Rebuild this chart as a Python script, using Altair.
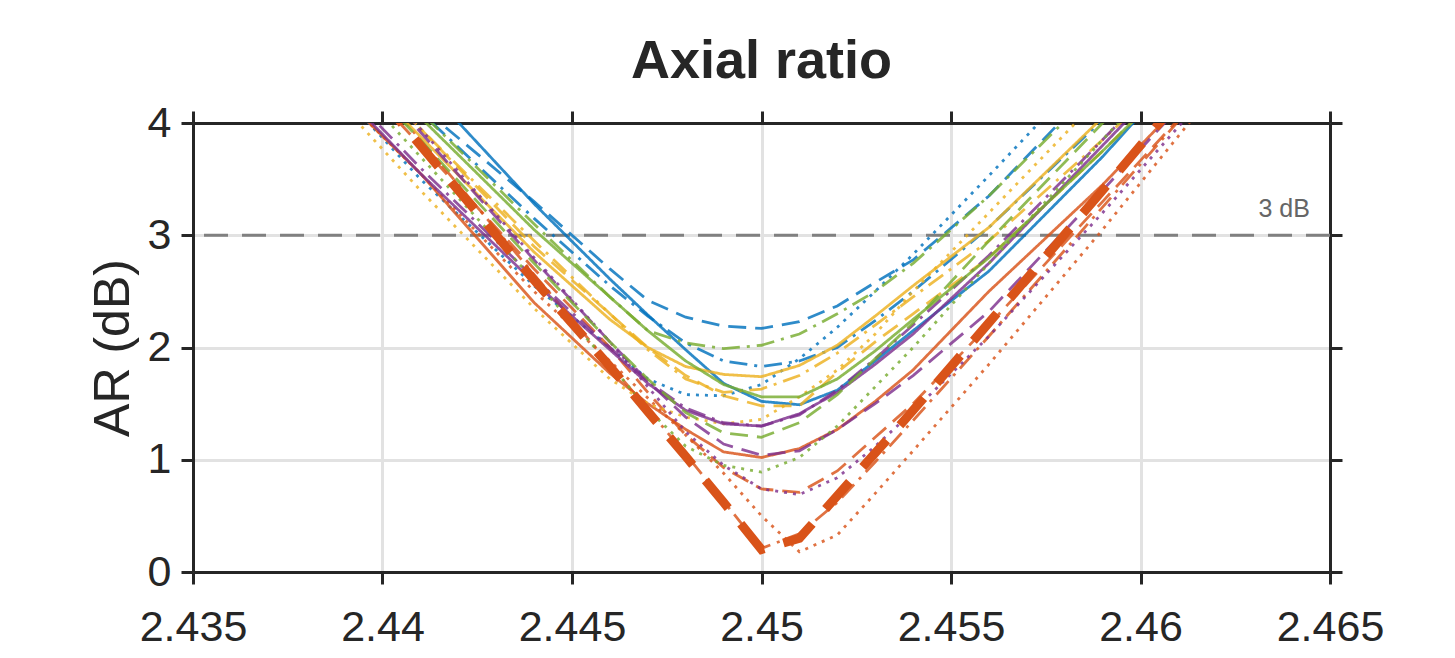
import altair as alt
import pandas as pd

# Frequency grid (GHz)
X = [2.438, 2.441, 2.444, 2.446, 2.447, 2.448, 2.449, 2.450, 2.451, 2.452, 2.453, 2.454, 2.456, 2.459, 2.462]

# Axial ratio curves (dB)
blue_solid    = [5.50, 4.37, 3.28, 2.61, 2.29, 1.98, 1.68, 1.52, 1.49, 1.62, 1.88, 2.15, 2.68, 3.70, 4.82]
blue_dashed   = [5.10, 4.15, 3.30, 2.70, 2.42, 2.27, 2.19, 2.17, 2.23, 2.37, 2.58, 2.78, 3.35, 4.40, 5.40]
blue_dashdot  = [5.10, 4.10, 3.15, 2.55, 2.28, 2.04, 1.88, 1.83, 1.88, 2.00, 2.24, 2.50, 3.07, 4.03, 5.00]
blue_dotted   = [4.60, 3.50, 2.55, 2.00, 1.72, 1.58, 1.57, 1.67, 1.90, 2.18, 2.50, 2.83, 3.53, 4.60, 5.70]

orange_solid   = [4.55, 3.55, 2.40, 1.77, 1.50, 1.27, 1.07, 1.02, 1.10, 1.27, 1.52, 1.80, 2.50, 3.45, 4.50]
orange_dashed  = [4.90, 3.80, 2.70, 2.00, 1.60, 1.22, 0.93, 0.74, 0.71, 0.90, 1.20, 1.50, 2.20, 3.30, 4.40]
orange_dotted  = [4.55, 3.55, 2.50, 1.88, 1.55, 1.22, 0.88, 0.50, 0.18, 0.33, 0.70, 1.08, 1.85, 3.05, 4.30]
orange_dashdot = [5.05, 3.85, 2.65, 1.85, 1.45, 1.05, 0.63, 0.21, 0.34, 0.62, 0.98, 1.35, 2.10, 3.25, 4.40]

yellow_solid   = [4.90, 3.88, 2.85, 2.25, 2.00, 1.83, 1.76, 1.74, 1.84, 2.02, 2.28, 2.55, 3.07, 4.05, 5.05]
yellow_dashed  = [5.00, 3.95, 2.90, 2.30, 2.00, 1.75, 1.57, 1.48, 1.48, 1.78, 2.05, 2.30, 2.80, 3.75, 4.75]
yellow_dashdot = [5.00, 3.95, 2.95, 2.30, 1.98, 1.72, 1.60, 1.63, 1.75, 1.95, 2.20, 2.45, 2.95, 3.85, 4.80]
yellow_dotted  = [4.50, 3.40, 2.35, 1.72, 1.50, 1.38, 1.32, 1.36, 1.56, 1.80, 2.12, 2.50, 3.20, 4.25, 5.30]

purple_solid   = [4.60, 3.55, 2.58, 1.98, 1.68, 1.44, 1.32, 1.30, 1.41, 1.60, 1.85, 2.12, 2.75, 3.80, 4.85]
purple_dashdot = [4.65, 3.60, 2.62, 2.00, 1.70, 1.46, 1.33, 1.30, 1.40, 1.62, 1.90, 2.20, 2.82, 3.85, 4.90]
purple_dashed  = [5.00, 3.92, 2.78, 2.05, 1.70, 1.38, 1.14, 1.04, 1.08, 1.27, 1.50, 1.75, 2.32, 3.40, 4.50]
purple_dotted  = [5.10, 3.95, 2.80, 2.05, 1.65, 1.25, 0.95, 0.74, 0.69, 0.84, 1.12, 1.43, 2.10, 3.20, 4.35]

green_solid   = [5.00, 4.05, 3.05, 2.45, 2.15, 1.88, 1.67, 1.56, 1.56, 1.72, 1.97, 2.25, 2.80, 3.75, 4.75]
green_dashed  = [4.90, 3.85, 2.75, 2.05, 1.72, 1.42, 1.24, 1.20, 1.33, 1.58, 1.90, 2.22, 2.95, 4.00, 5.00]
green_dotted  = [4.80, 3.70, 2.60, 1.85, 1.45, 1.12, 0.95, 0.89, 1.02, 1.30, 1.65, 2.00, 2.75, 3.85, 4.95]
green_dashdot = [5.20, 4.10, 3.10, 2.45, 2.15, 2.04, 1.99, 2.02, 2.12, 2.30, 2.50, 2.75, 3.35, 4.35, 5.35]

# Highlighted (thick dashed) curve
highlight = [5.00, 3.80, 2.60, 1.83, 1.43, 1.03, 0.62, 0.20, 0.30, 0.68, 1.06, 1.44, 2.22, 3.40, 4.60]

X_TICKS = [2.435, 2.44, 2.445, 2.45, 2.455, 2.46, 2.465]
Y_TICKS = [0, 1, 2, 3, 4]

COLOR_NAMES = ["blue", "orange", "yellow", "purple", "green"]
COLOR_HEX = ["#0072BD", "#D95319", "#EDB120", "#7E2F8E", "#77AC30"]
STYLE_NAMES = ["solid", "dashed", "dotted", "dashdot"]
STYLE_DASH = [[1, 0], [18, 9], [3, 6], [18, 7, 3, 7]]

SERIES = [
    ("blue solid", "blue", "solid", blue_solid),
    ("blue dashed", "blue", "dashed", blue_dashed),
    ("blue dashdot", "blue", "dashdot", blue_dashdot),
    ("blue dotted", "blue", "dotted", blue_dotted),
    ("orange solid", "orange", "solid", orange_solid),
    ("orange dashed", "orange", "dashed", orange_dashed),
    ("orange dotted", "orange", "dotted", orange_dotted),
    ("orange dashdot", "orange", "dashdot", orange_dashdot),
    ("yellow solid", "yellow", "solid", yellow_solid),
    ("yellow dashed", "yellow", "dashed", yellow_dashed),
    ("yellow dashdot", "yellow", "dashdot", yellow_dashdot),
    ("yellow dotted", "yellow", "dotted", yellow_dotted),
    ("purple solid", "purple", "solid", purple_solid),
    ("purple dashdot", "purple", "dashdot", purple_dashdot),
    ("purple dashed", "purple", "dashed", purple_dashed),
    ("purple dotted", "purple", "dotted", purple_dotted),
    ("green solid", "green", "solid", green_solid),
    ("green dashed", "green", "dashed", green_dashed),
    ("green dotted", "green", "dotted", green_dotted),
    ("green dashdot", "green", "dashdot", green_dashdot),
]

rows = []
for name, col, sty, vals in SERIES:
    for xv, v in zip(X, vals):
        rows.append({"x": xv, "ar": v, "series": name, "color": col, "style": sty})
df = pd.DataFrame(rows)
df_hi = pd.DataFrame({"x": X, "ar": highlight})
df_ref = pd.DataFrame({"y": [3.0]})
df_lab = pd.DataFrame({"x": [2.46447], "y": [3.0], "t": ["3 dB"]})

FONT = "Liberation Sans"
DARK = "#262626"

xscale = alt.Scale(domain=[2.435, 2.465], nice=False, zero=False)
yscale = alt.Scale(domain=[0, 4], nice=False)

axis_common = dict(
    domainColor=DARK, domainWidth=3, tickColor=DARK, tickWidth=3, tickSize=12,
    labelFont=FONT, labelFontSize=43, labelColor=DARK, gridColor="#e2e2e2", gridWidth=3,
    labelOverlap=False, labelFlush=False,
)

x_bottom = alt.Axis(orient="bottom", values=X_TICKS, format=".3~f", title=None, grid=True,
                    labelPadding=22, **axis_common)
y_left = alt.Axis(orient="left", values=Y_TICKS, format="d", title="AR (dB)", grid=True,
                  titleFont=FONT, titleFontSize=50, titleFontWeight="normal", titleColor=DARK,
                  titlePadding=9, labelPadding=10, **axis_common)
x_top = alt.Axis(orient="top", values=X_TICKS, title=None, labels=False, grid=False, **axis_common)
y_right = alt.Axis(orient="right", values=Y_TICKS, title=None, labels=False, grid=False, **axis_common)

rule = alt.Chart(df_ref).mark_rule(color="#808080", strokeWidth=3, strokeDash=[24, 14]).encode(
    y=alt.Y("y:Q", scale=yscale, axis=None)
)

lines = alt.Chart(df).mark_line(clip=True, strokeWidth=2.8, strokeOpacity=0.82).encode(
    x=alt.X("x:Q", scale=xscale, axis=x_bottom),
    y=alt.Y("ar:Q", scale=yscale, axis=y_left),
    color=alt.Color("color:N", scale=alt.Scale(domain=COLOR_NAMES, range=COLOR_HEX), legend=None),
    strokeDash=alt.StrokeDash("style:N", scale=alt.Scale(domain=STYLE_NAMES, range=STYLE_DASH), legend=None),
    detail="series:N",
)

thick = alt.Chart(df_hi).mark_line(clip=True, strokeWidth=9, color="#D95319", strokeDash=[36, 20]).encode(
    x=alt.X("x:Q", scale=xscale, axis=None),
    y=alt.Y("ar:Q", scale=yscale, axis=None),
)

label = alt.Chart(df_lab).mark_text(
    align="right", baseline="alphabetic", dy=-18, fontSize=25, color="#666666", font=FONT
).encode(
    x=alt.X("x:Q", scale=xscale, axis=x_top),
    y=alt.Y("y:Q", scale=yscale, axis=y_right),
    text="t:N",
)

chart = alt.layer(rule, lines, thick, label).resolve_axis(
    x="independent", y="independent"
).properties(
    width=1137,
    height=449,
    autosize=alt.AutoSizeParams(type="none"),
    padding={"left": 193, "top": 123, "right": 125, "bottom": 86},
    title=alt.Title("Axial ratio", fontSize=54, font=FONT, fontWeight="bold", color=DARK,
                    offset=13, anchor="middle"),
).configure_view(stroke=None).configure(background="white")

chart.save("out.html", embed_options={"renderer": "svg", "actions": False})
